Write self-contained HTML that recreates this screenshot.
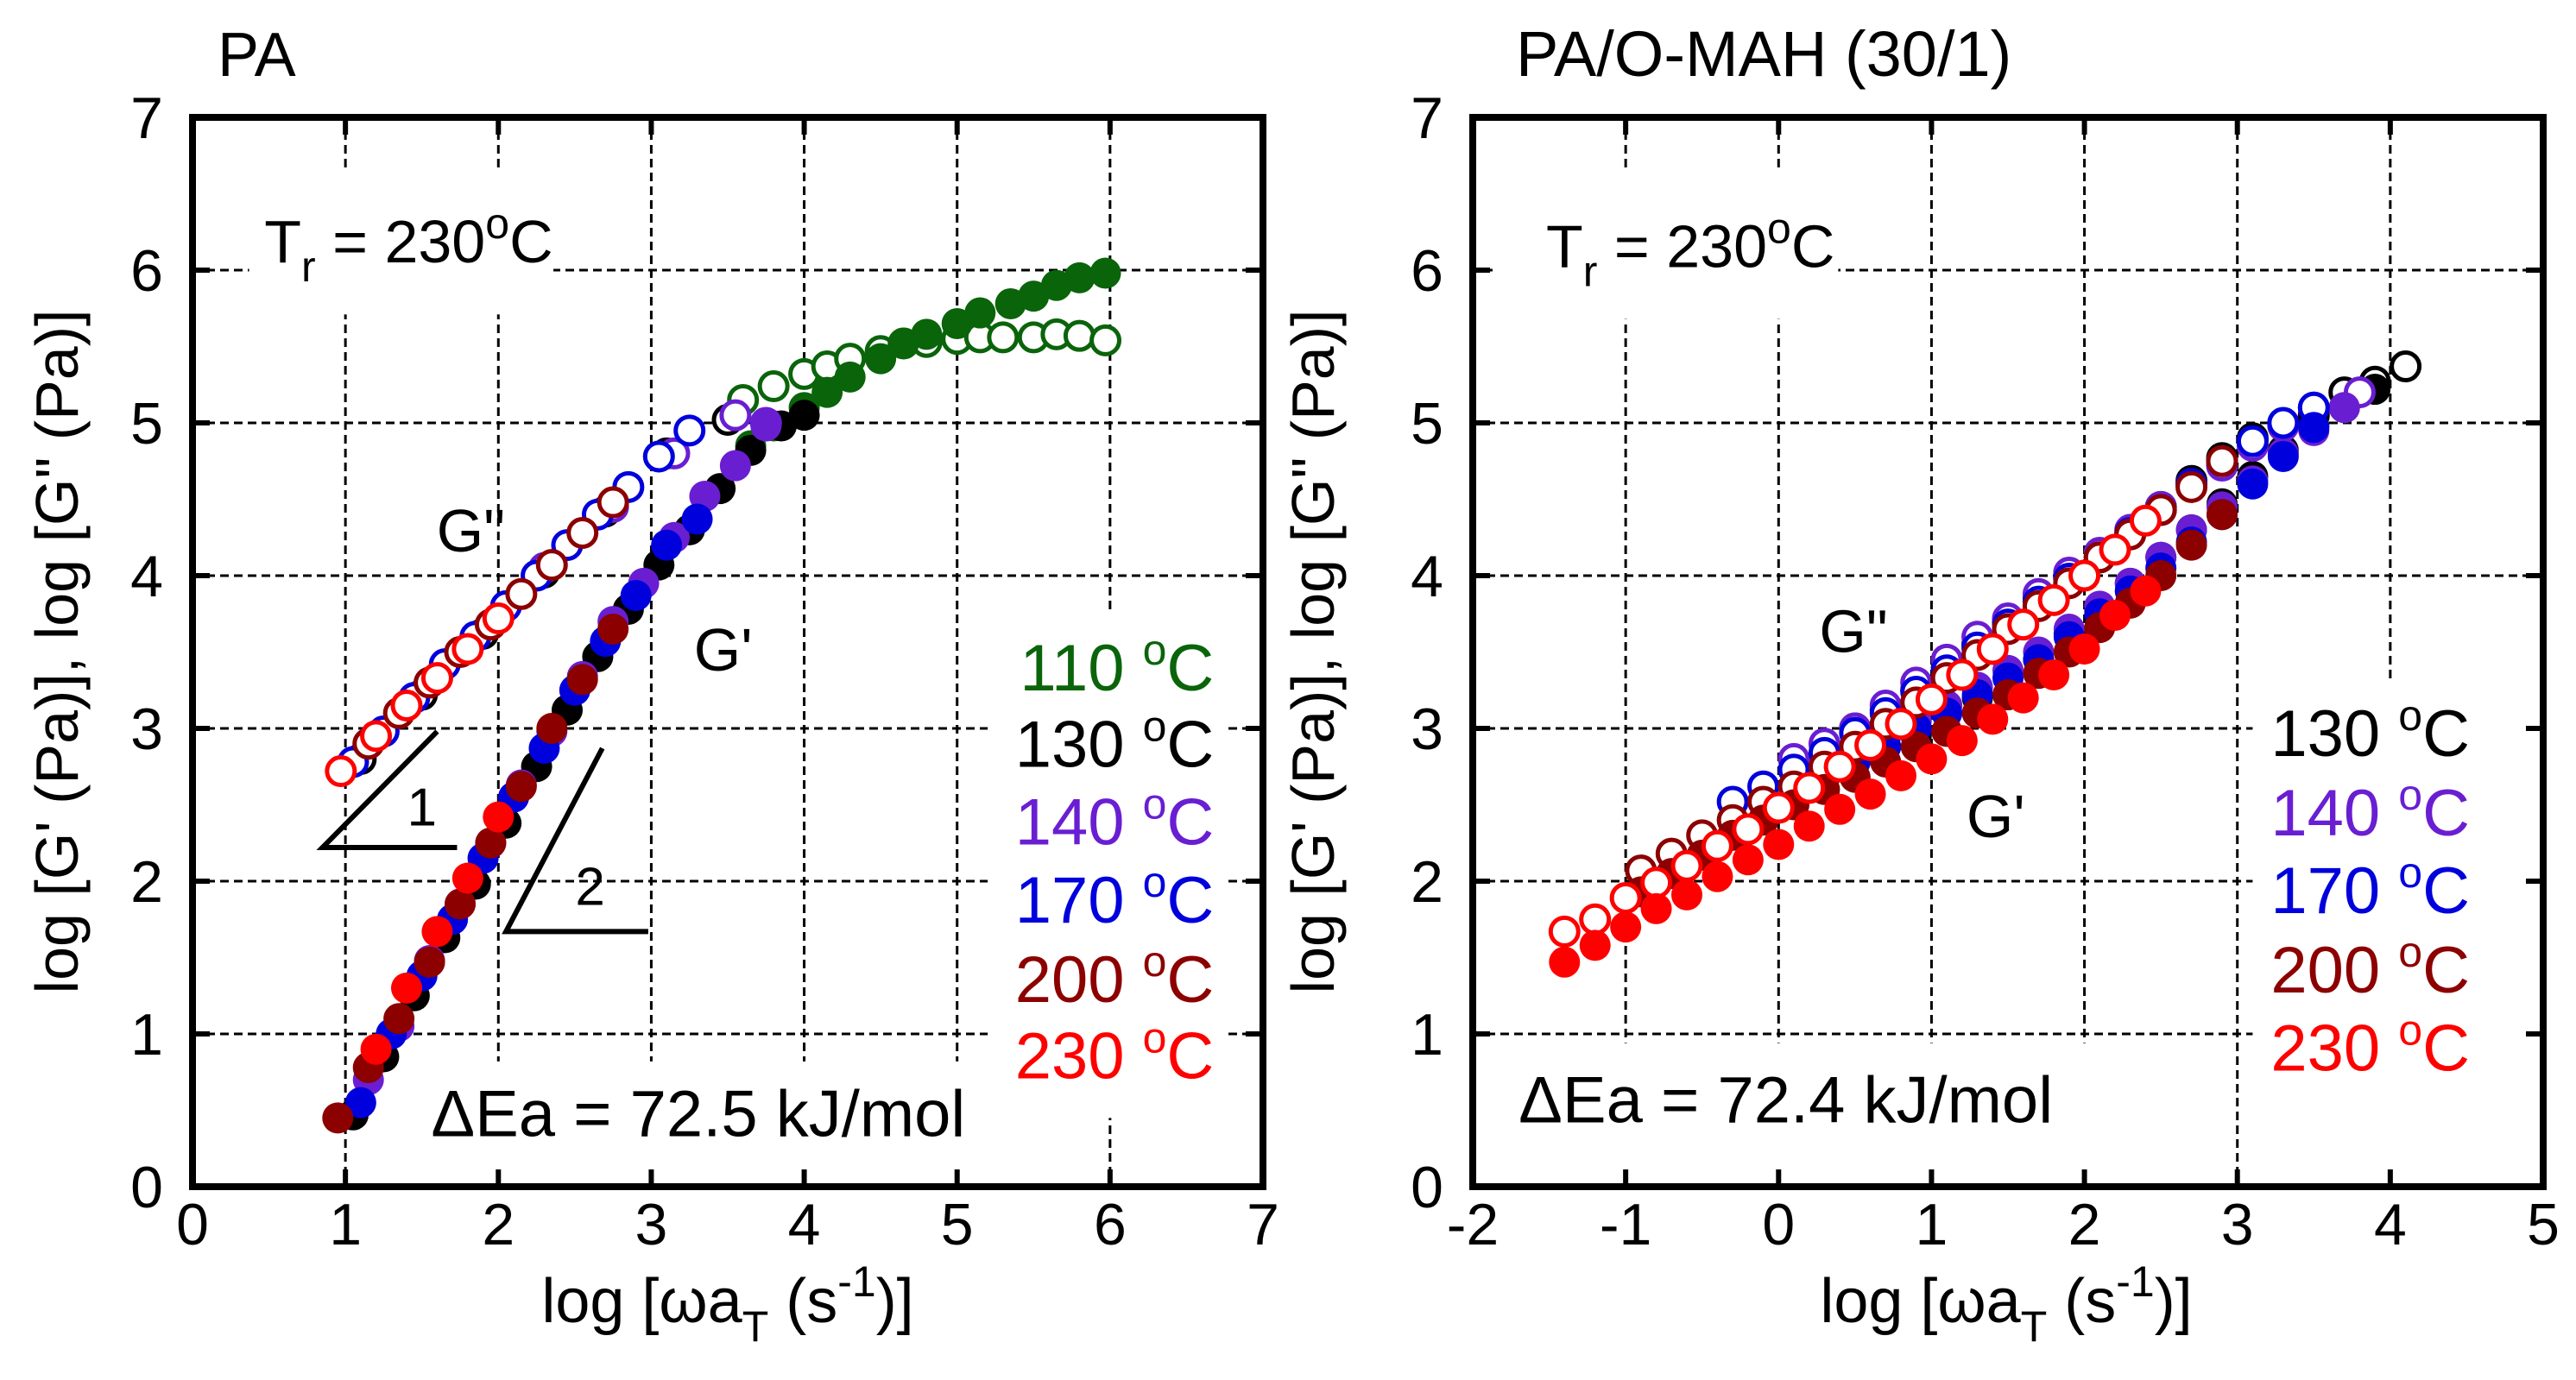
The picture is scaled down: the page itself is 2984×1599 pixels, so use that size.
<!DOCTYPE html>
<html><head><meta charset="utf-8"><style>
html,body{margin:0;padding:0;background:#fff;}
svg{display:block;font-family:"Liberation Sans",Arial,sans-serif;}
</style></head><body>
<svg id="fig" width="2984" height="1599" viewBox="0 0 2984 1599" xmlns="http://www.w3.org/2000/svg">
<rect x="0" y="0" width="2984" height="1599" fill="#fff"/>
</svg>
<script>
// ---------- Left panel (PA) data ----------
const paCats = ['110','130','140','170','200','230'];
const paG1_110_x = [3.65,3.8,4.0,4.15,4.3,4.5,4.65,4.8,5.0,5.15,5.35,5.5,5.65,5.8,5.97];
const paG1_110_y = [4.85,4.98,5.1,5.2,5.3,5.42,5.52,5.58,5.65,5.72,5.78,5.83,5.9,5.95,5.98];
const paG2_110_x = [3.6,3.8,4.0,4.15,4.3,4.5,4.65,4.8,5.0,5.15,5.3,5.5,5.65,5.8,5.97];
const paG2_110_y = [5.15,5.24,5.32,5.37,5.42,5.47,5.52,5.53,5.55,5.56,5.56,5.56,5.58,5.57,5.54];
const paG1_130_x = [1.05,1.25,1.45,1.65,1.85,2.05,2.25,2.45,2.65,2.85,3.05,3.25,3.45,3.65,3.85,4.0];
const paG1_130_y = [0.47,0.85,1.25,1.63,1.98,2.38,2.75,3.12,3.47,3.78,4.07,4.3,4.57,4.82,4.98,5.05];
const paG2_130_x = [1.1,1.5,1.9,2.3,2.7,3.1,3.5];
const paG2_130_y = [2.8,3.22,3.62,4.02,4.42,4.8,5.02];
const paG1_140_x = [1.15,1.35,1.55,1.75,1.95,2.15,2.35,2.55,2.75,2.95,3.15,3.35,3.55,3.75];
const paG1_140_y = [0.7,1.05,1.48,1.85,2.25,2.63,2.98,3.34,3.7,3.95,4.25,4.52,4.72,4.98];
const paG2_140_x = [2.3,2.75,3.15,3.55,3.75];
const paG2_140_y = [4.05,4.45,4.8,5.05,5.0];
const paG1_170_x = [1.1,1.3,1.5,1.7,1.9,2.1,2.3,2.5,2.7,2.9,3.1,3.3];
const paG1_170_y = [0.55,1.0,1.38,1.75,2.15,2.55,2.87,3.25,3.57,3.87,4.2,4.37];
const paG2_170_x = [1.05,1.25,1.45,1.65,1.85,2.05,2.25,2.45,2.65,2.85,3.05,3.25];
const paG2_170_y = [2.78,2.98,3.2,3.42,3.6,3.8,4.0,4.2,4.4,4.58,4.78,4.95];
const paG1_200_x = [0.95,1.15,1.35,1.55,1.75,1.95,2.15,2.35,2.55,2.75];
const paG1_200_y = [0.45,0.78,1.1,1.47,1.85,2.25,2.62,3.0,3.32,3.65];
const paG2_200_x = [1.15,1.35,1.55,1.75,1.95,2.15,2.35,2.55,2.75];
const paG2_200_y = [2.9,3.1,3.3,3.5,3.68,3.88,4.07,4.28,4.48];
const paG1_230_x = [1.2,1.4,1.6,1.8,2.0];
const paG1_230_y = [0.9,1.3,1.67,2.02,2.42];
const paG2_230_x = [0.97,1.2,1.4,1.6,1.8,2.0];
const paG2_230_y = [2.72,2.95,3.15,3.33,3.52,3.72];

// ---------- Right panel (PA/O-MAH) data ----------
const mhCats = ['130','140','170','200','230'];
const mhG1_130_x = [0.9,1.3,1.7,1.9,2.1,2.3,2.5,2.7,2.9,3.1,3.3,3.5,3.7,3.9];
const mhG1_130_y = [2.95,3.2,3.45,3.62,3.78,3.95,4.12,4.3,4.47,4.65,4.82,4.98,5.1,5.22];
const mhG2_130_x = [0.5,0.7,0.9,1.1,1.3,1.5,1.7,1.9,2.1,2.3,2.5,2.7,2.9,3.1,3.5,3.7,3.9,4.1];
const mhG2_130_y = [3.0,3.12,3.25,3.4,3.55,3.7,3.85,3.98,4.12,4.28,4.45,4.62,4.77,4.9,5.05,5.2,5.27,5.37];
const mhG1_140_x = [0.7,0.9,1.1,1.3,1.5,1.7,1.9,2.1,2.3,2.5,2.7,2.9,3.1,3.3,3.5,3.7];
const mhG1_140_y = [2.95,3.05,3.15,3.27,3.38,3.5,3.65,3.8,3.95,4.12,4.3,4.45,4.62,4.8,4.95,5.1];
const mhG2_140_x = [0.1,0.3,0.5,0.7,0.9,1.1,1.3,1.5,1.7,1.9,2.1,2.3,2.5,2.7,2.9,3.1,3.3,3.5,3.8];
const mhG2_140_y = [2.8,2.9,3.0,3.15,3.3,3.45,3.6,3.72,3.88,4.02,4.15,4.3,4.45,4.6,4.72,4.85,4.98,5.1,5.2];
const mhG1_170_x = [0.3,0.5,0.7,0.9,1.1,1.3,1.5,1.7,1.9,2.1,2.3,2.5,2.7,2.9,3.1,3.3,3.5];
const mhG1_170_y = [2.68,2.78,2.88,3.0,3.1,3.22,3.33,3.45,3.6,3.75,3.9,4.05,4.22,4.4,4.6,4.78,4.97];
const mhG2_170_x = [-0.3,-0.1,0.1,0.3,0.5,0.7,0.9,1.1,1.3,1.5,1.7,1.9,2.1,2.3,2.5,2.7,2.9,3.1,3.3,3.5];
const mhG2_170_y = [2.52,2.62,2.73,2.84,2.97,3.1,3.24,3.38,3.53,3.68,3.83,3.98,4.12,4.28,4.43,4.6,4.75,4.88,5.0,5.1];
const mhG1_200_x = [-0.9,-0.7,-0.5,-0.3,-0.1,0.1,0.3,0.5,0.7,0.9,1.1,1.3,1.5,1.7,1.9,2.1,2.3,2.5,2.7,2.9];
const mhG1_200_y = [1.93,2.05,2.17,2.3,2.4,2.5,2.6,2.68,2.78,2.88,2.98,3.1,3.22,3.36,3.5,3.66,3.82,4.0,4.2,4.4];
const mhG2_200_x = [-0.9,-0.7,-0.5,-0.3,-0.1,0.1,0.3,0.5,0.7,0.9,1.1,1.3,1.5,1.7,1.9,2.1,2.3,2.5,2.7,2.9];
const mhG2_200_y = [2.07,2.18,2.3,2.4,2.52,2.62,2.75,2.88,3.03,3.17,3.33,3.48,3.65,3.8,3.95,4.12,4.27,4.43,4.58,4.75];
const mhG1_230_x = [-1.4,-1.2,-1.0,-0.8,-0.6,-0.4,-0.2,0.0,0.2,0.4,0.6,0.8,1.0,1.2,1.4,1.6,1.8,2.0,2.2,2.4];
const mhG1_230_y = [1.47,1.58,1.7,1.82,1.91,2.03,2.14,2.24,2.36,2.47,2.57,2.69,2.8,2.92,3.06,3.2,3.35,3.52,3.74,3.9];
const mhG2_230_x = [-1.4,-1.2,-1.0,-0.8,-0.6,-0.4,-0.2,0.0,0.2,0.4,0.6,0.8,1.0,1.2,1.4,1.6,1.8,2.0,2.2,2.4];
const mhG2_230_y = [1.67,1.75,1.89,1.99,2.1,2.23,2.34,2.48,2.61,2.75,2.89,3.03,3.19,3.35,3.52,3.68,3.84,4.0,4.17,4.36];

const xTicksPA = [0,1,2,3,4,5,6,7];
const xTicksMH = [-2,-1,0,1,2,3,4,5];
const yTicks = [0,1,2,3,4,5,6,7];

const COL = {'110':'#0a640a','130':'#000000','140':'#6a1ed2','170':'#0000dc','200':'#8c0000','230':'#ff0000'};
const NS='http://www.w3.org/2000/svg';
const svg=document.getElementById('fig');
function mk(tag,attrs,parent){const e=document.createElementNS(NS,tag);for(const k in attrs)e.setAttribute(k,attrs[k]);(parent||svg).appendChild(e);return e;}

function panel(opt){
  const L=opt.left,R=opt.left+1240,T=136,B=1375;
  const sx=v=>L+(v-opt.xmin)/(opt.xmax-opt.xmin)*(R-L);
  const sy=v=>B-(v-0)/7*(B-T);
  const g=mk('g',{});
  
  
  const grid=mk('g',{stroke:'#000','stroke-width':3,'stroke-dasharray':'10,6'},g);
  
  
  opt.xticks.forEach(v=>{if(v>opt.xmin&&v<opt.xmax)mk('line',{x1:sx(v),x2:sx(v),y1:T,y2:B},grid);});
  yTicks.forEach(v=>{if(v>0&&v<7)mk('line',{x1:L,x2:R,y1:sy(v),y2:sy(v)},grid);});
  opt.boxes.forEach(b=>{const r=mk('rect',{x:sx(b[0]),y:sy(b[3]),width:sx(b[1])-sx(b[0]),height:sy(b[2])-sy(b[3]),fill:'#fff'},g);
    });
  const tk=mk('g',{stroke:'#000','stroke-width':6},g);
  opt.xticks.forEach(v=>{mk('line',{x1:sx(v),x2:sx(v),y1:B,y2:B-20},tk);mk('line',{x1:sx(v),x2:sx(v),y1:T,y2:T+20},tk);});
  yTicks.forEach(v=>{mk('line',{x1:L,x2:L+20,y1:sy(v),y2:sy(v)},tk);mk('line',{x1:R,x2:R-20,y1:sy(v),y2:sy(v)},tk);});
  opt.xticks.forEach(v=>{const t=mk('text',{x:sx(v),y:1442,'font-size':68,'text-anchor':'middle'},g);t.textContent=String(v);
    });
  yTicks.forEach(v=>{const t=mk('text',{x:L-34,y:sy(v)+24,'font-size':68,'text-anchor':'end'},g);t.textContent=String(v);
    });
  const sg=mk('g',{},g);
  opt.series.forEach(s=>{
    const xs=s[0],ys=s[1],c=COL[s[2]],open=s[3];
    for(let i=0;i<xs.length;i++){
      const el=mk('circle',{cx:sx(xs[i]),cy:sy(ys[i]),r:open?16:18,fill:open?'#fff':c,stroke:c,'stroke-width':open?5:0},sg);
      
      
    }
  });
  (opt.tri||[]).forEach(tr=>{const p=mk('polyline',{points:tr.pts.map(q=>sx(q[0])+','+sy(q[1])).join(' '),fill:'none',stroke:'#000','stroke-width':6},g);
    
    const t=mk('text',{x:sx(tr.lab[0]),y:sy(tr.lab[1])+22,'font-size':62,'text-anchor':'middle'},g);t.textContent=tr.lab[2];
    });
  const fr=mk('rect',{x:L,y:T,width:R-L,height:B-T,fill:'none',stroke:'#000','stroke-width':8},g);
  
  const tr=mk('text',{x:sx(opt.trx),y:sy(opt.try_),'font-size':70},g);
  
  tr.innerHTML='T<tspan font-size="50" dy="22">r</tspan><tspan dy="-22"> = 230</tspan><tspan font-size="50" dy="-28">o</tspan><tspan dy="28">C</tspan>';
  const ea=mk('text',{x:sx(opt.eax),y:sy(opt.eay),'font-size':76},g);ea.textContent=opt.eaText;
  
  opt.glabels.forEach(gl=>{const t=mk('text',{x:sx(gl[0]),y:sy(gl[1])+25,'font-size':70,'text-anchor':'middle'},g);t.textContent=gl[2];
    });
  opt.cats.forEach((c,i)=>{const t=mk('text',{x:sx(opt.legx),y:sy(opt.legy[i]),'font-size':76,'text-anchor':'end',fill:COL[c]},g);
    t.innerHTML=c+' <tspan font-size="50" dy="-30">o</tspan><tspan dy="30">C</tspan>';
    });
  const xl=mk('text',{x:opt.xlabX,y:1532,'font-size':72,'text-anchor':'middle'},g);
  xl.innerHTML='log [ωa<tspan font-size="50" dy="22">T</tspan><tspan dy="-22"> (s</tspan><tspan font-size="50" dy="-30">-1</tspan><tspan dy="30">)]</tspan>';
  
  const yl=mk('text',{x:0,y:0,'font-size':70,'text-anchor':'middle',transform:'translate('+(opt.ylabX)+',755) rotate(-90)'},g);
  yl.textContent='log [G\' (Pa)], log [G" (Pa)]';
  
  const ti=mk('text',{x:opt.titleX,y:88,'font-size':opt.titleSize},g);ti.textContent=opt.title;
  
}

panel({name:'pa-panel',left:223,xmin:0,xmax:7,xticks:xTicksPA,title:'PA',titleX:252,titleSize:72,xlabX:843,ylabX:90,
  boxes:[[0.37,2.36,5.71,6.66],[5.2,6.75,0.45,3.78],[1.5,5.5,0.05,0.82]],
  series:[[paG2_110_x,paG2_110_y,'110',1],[paG1_110_x,paG1_110_y,'110',0],
    [paG2_130_x,paG2_130_y,'130',1],[paG1_130_x,paG1_130_y,'130',0],
    [paG2_140_x,paG2_140_y,'140',1],[paG1_140_x,paG1_140_y,'140',0],
    [paG2_170_x,paG2_170_y,'170',1],[paG1_170_x,paG1_170_y,'170',0],
    [paG2_200_x,paG2_200_y,'200',1],[paG1_200_x,paG1_200_y,'200',0],
    [paG2_230_x,paG2_230_y,'230',1],[paG1_230_x,paG1_230_y,'230',0]],
  tri:[{pts:[[1.6,2.98],[0.85,2.22],[1.73,2.22]],lab:[1.5,2.49,'1']},{pts:[[2.68,2.87],[2.05,1.67],[2.98,1.67]],lab:[2.6,1.97,'2']}],
  trx:0.47,try_:6.05,eax:1.56,eay:0.33,eaText:'ΔEa = 72.5 kJ/mol',
  glabels:[[1.82,4.3,'G"'],[3.47,3.52,"G'"]],
  cats:paCats,legx:6.68,legy:[3.25,2.75,2.24,1.73,1.21,0.71]});

panel({name:'pa-omah-panel',left:1706,xmin:-2,xmax:5,xticks:xTicksMH,title:'PA/O-MAH (30/1)',titleX:1756,titleSize:74,xlabX:2324,ylabX:1545,
  boxes:[[-1.87,0.39,5.68,6.65],[3.1,4.9,0.05,3.32],[-1.75,2.6,0.05,0.94]],
  series:[[mhG2_130_x,mhG2_130_y,'130',1],[mhG1_130_x,mhG1_130_y,'130',0],
    [mhG2_140_x,mhG2_140_y,'140',1],[mhG1_140_x,mhG1_140_y,'140',0],
    [mhG2_170_x,mhG2_170_y,'170',1],[mhG1_170_x,mhG1_170_y,'170',0],
    [mhG2_200_x,mhG2_200_y,'200',1],[mhG1_200_x,mhG1_200_y,'200',0],
    [mhG2_230_x,mhG2_230_y,'230',1],[mhG1_230_x,mhG1_230_y,'230',0]],
  trx:-1.52,try_:6.02,eax:-1.7,eay:0.42,eaText:'ΔEa = 72.4 kJ/mol',
  glabels:[[0.49,3.64,'G"'],[1.42,2.43,"G'"]],
  cats:mhCats,legx:4.52,legy:[2.82,2.3,1.79,1.27,0.76]});
</script>
</body></html>
